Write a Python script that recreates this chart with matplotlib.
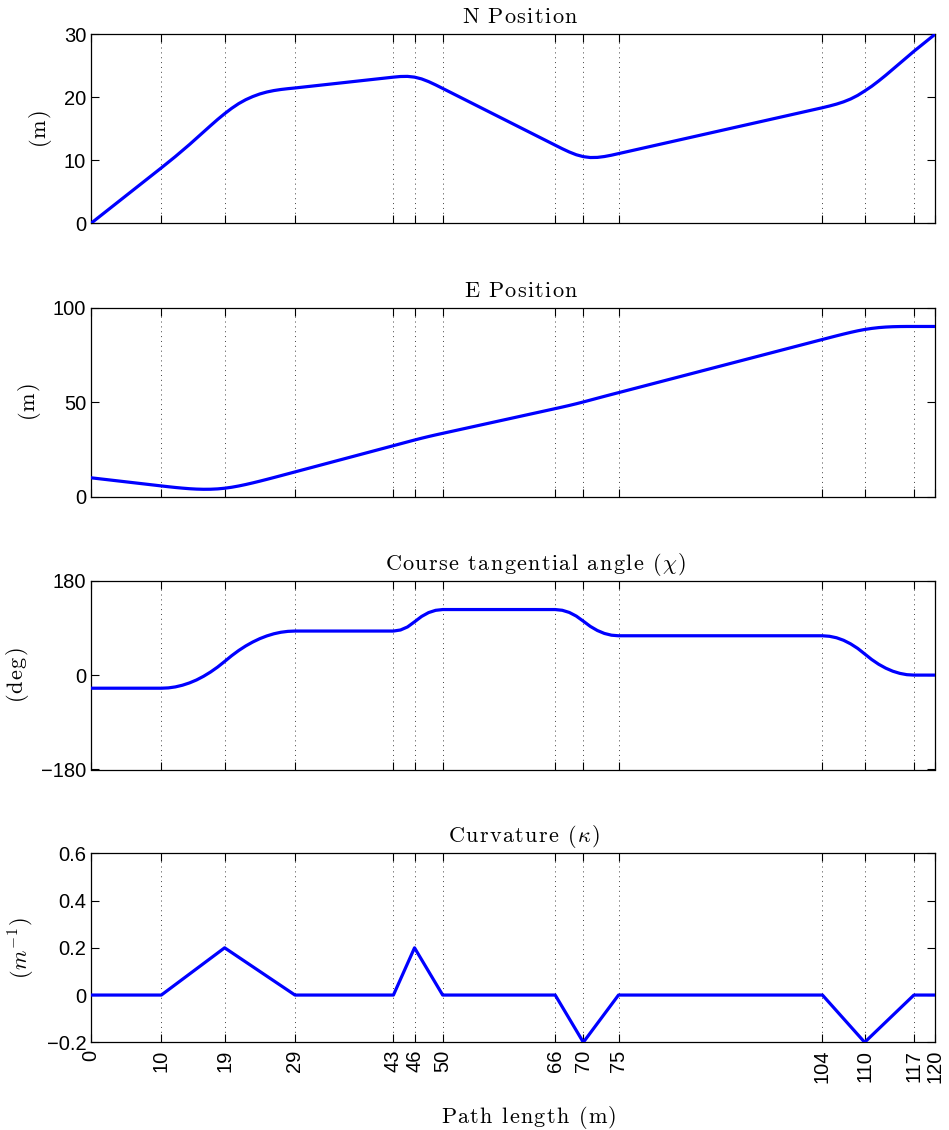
import matplotlib
matplotlib.use('Agg')
import matplotlib.pyplot as plt

plt.rcParams['mathtext.fontset'] = 'cm'
plt.rcParams['font.family'] = ['Liberation Sans', 'DejaVu Sans']

# ---- data ----
breaks = [0, 10, 19, 29, 43, 46, 50, 66, 70, 75, 104, 110, 117, 120]

s_pts = [0,
         10, 11, 12, 13, 14, 15, 16, 17, 18, 19, 20, 21, 22, 23, 24, 25, 26, 27, 28, 29,
         43, 44, 45, 46, 47, 48, 49, 50,
         66, 67, 68, 69, 70, 71, 72, 73, 74, 75,
         104, 105, 106, 107, 108, 109, 110, 111, 112, 113, 114, 115, 116, 117,
         120]

north = [0.0,
         8.8, 9.7, 10.6, 11.55, 12.5, 13.5, 14.5, 15.5, 16.48, 17.4, 18.25, 19.0, 19.62, 20.12,
         20.53, 20.84, 21.07, 21.24, 21.37, 21.48,
         23.2, 23.3, 23.32, 23.2, 22.92, 22.49, 21.97, 21.41,
         12.4, 11.84, 11.32, 10.88, 10.58, 10.44, 10.46, 10.6, 10.81, 11.06,
         18.35, 18.62, 18.92, 19.28, 19.73, 20.3, 21.0, 21.75, 22.6, 23.5, 24.45, 25.4, 26.35, 27.3,
         30.0]

east = [10.0,
        5.7, 5.28, 4.88, 4.53, 4.23, 4.02, 3.92, 3.95, 4.13, 4.48, 5.0, 5.67, 6.45, 7.31,
        8.22, 9.17, 10.14, 11.13, 12.12, 13.11,
        27.0, 28.0, 29.0, 29.99, 30.94, 31.84, 32.7, 33.52,
        46.6, 47.43, 48.28, 49.18, 50.13, 51.12, 52.12, 53.11, 54.09, 55.05,
        83.2, 84.16, 85.12, 86.05, 86.94, 87.76, 88.47, 89.04, 89.47, 89.76, 89.94, 90.03, 90.07, 90.07,
        90.07]

chi = [-25.0,
       -25.0, -24.4, -22.5, -19.3, -14.9, -9.3, -2.3, 5.9, 15.3, 26.0, 37.0, 46.9, 55.6, 63.1,
       69.5, 74.7, 78.8, 81.7, 83.4, 84.0,
       84.0, 86.0, 91.8, 101.6, 111.8, 119.2, 123.5, 125.0,
       125.0, 123.6, 119.5, 112.5, 102.8, 92.8, 85.0, 79.4, 76.1, 75.0,
       75.0, 74.0, 71.2, 66.4, 59.6, 51.0, 40.4, 29.7, 20.6, 13.2, 7.4, 3.3, 0.8, 0.0,
       0.0]

s_kappa = [0, 10, 19, 29, 43, 46, 50, 66, 70, 75, 104, 110, 117, 120]
kappa = [0, 0, 0.2, 0, 0, 0.2, 0, 0, -0.2, 0, 0, -0.2, 0, 0]


def spaced(tokens, sp=0.07):
    parts = []
    for t in tokens:
        if t == ' ':
            parts.append(r'\ ')
        elif t.startswith('\\') or '^' in t:
            parts.append(t)
        else:
            parts.append(r'\mathrm{%s}' % t)
    return '$' + (r'\hspace{%g}' % sp).join(parts) + '$'


titles = [spaced(list('N Position')), spaced(list('E Position')),
          spaced(list('Course tangential angle ') + ['(', r'\chi', ')']),
          spaced(list('Curvature ') + ['(', r'\kappa', ')'])]
title_x = [0.508, 0.5095, 0.5267, 0.513]
ylabels = [spaced(['(', 'm', ')']), spaced(['(', 'm', ')']),
           spaced(['(', 'd', 'e', 'g', ')']), spaced(['(', 'm^{-1}', ')'])]
yticks = [[0, 10, 20, 30], [0, 50, 100], [-180, 0, 180], [-0.2, 0, 0.2, 0.4, 0.6]]
yticklabels = [['0', '10', '20', '30'], ['0', '50', '100'], ['\u2212180', '0', '180'],
               ['\u22120.2', '0', '0.2', '0.4', '0.6']]
ylims = [(0, 30), (0, 100), (-180, 180), (-0.2, 0.6)]

series = [(s_pts, north), (s_pts, east), (s_pts, chi), (s_kappa, kappa)]

# ---- figure ----
W, H = 949, 1130
fig = plt.figure(figsize=(W / 100, H / 100), dpi=100)

left = 91 / W
width = (935 - 91) / W
tops_bottoms = [(34.3, 223.3), (307.7, 496.7), (580.7, 769.5), (853.3, 1042.3)]

for i, (tp, bt) in enumerate(tops_bottoms):
    ax = fig.add_axes([left, 1 - bt / H, width, (bt - tp) / H])
    xs, ys = series[i]
    ax.plot(xs, ys, color=(0, 0, 1), lw=2.3, solid_joinstyle='round', zorder=3)
    ax.set_xlim(0, 120)
    ax.set_ylim(*ylims[i])
    ax.set_xticks(breaks)
    ax.set_yticks(yticks[i])
    ax.set_yticklabels(yticklabels[i])
    ax.xaxis.grid(True, linestyle=(0, (1, 4)), color='0.25', lw=0.7)
    ax.set_axisbelow(True)
    ax.tick_params(direction='in', length=5.8, width=0.8, top=True, right=True,
                   labelsize=14.5)
    ax.tick_params(axis='y', pad=3.5)
    ax.tick_params(axis='x', pad=5.5)
    for sp in ax.spines.values():
        sp.set_linewidth(0.9)
    ax.set_title(titles[i], fontsize=16, pad=8, x=title_x[i])
    ax.set_ylabel(ylabels[i], fontsize=16, labelpad=7)
    if i < 3:
        ax.set_xticklabels([])
    else:
        ax.set_xticklabels([str(b) for b in breaks], rotation=90)
        ax.set_xlabel(spaced(list('Path length ') + ['(', 'm', ')']), fontsize=16,
                      labelpad=10)
        ax.xaxis.set_label_coords(0.519, -0.325)

fig.savefig('out.png', dpi=100)
